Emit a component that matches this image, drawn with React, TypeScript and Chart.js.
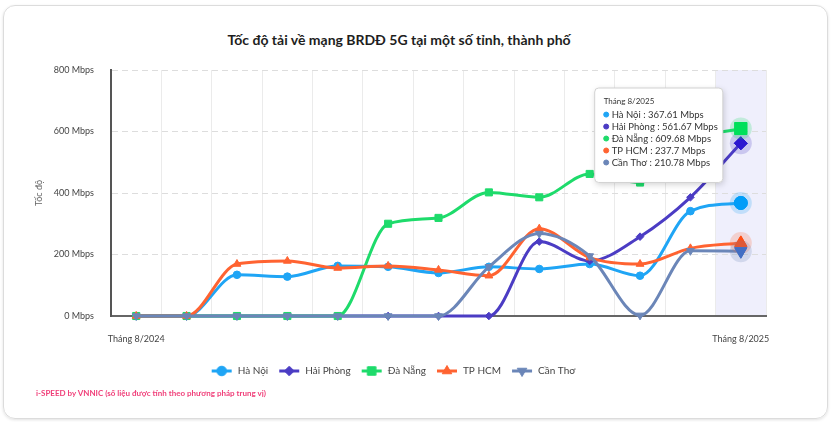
import React, { useEffect, useRef } from 'react';
import { Chart, registerables, Tooltip } from 'chart.js';
import { drawPoint } from 'chart.js/helpers';

Chart.register(...registerables);

const FONT = 'Lato, "Noto Sans", sans-serif';

const chartTitle = 'Tốc độ tải về mạng BRDĐ 5G tại một số tỉnh, thành phố';
const yAxisTitle = 'Tốc độ';
const footnote = 'i-SPEED by VNNIC (số liệu được tính theo phương pháp trung vị)';

const categories = [
  'Tháng 8/2024', 'Tháng 9/2024', 'Tháng 10/2024', 'Tháng 11/2024', 'Tháng 12/2024',
  'Tháng 1/2025', 'Tháng 2/2025', 'Tháng 3/2025', 'Tháng 4/2025', 'Tháng 5/2025',
  'Tháng 6/2025', 'Tháng 7/2025', 'Tháng 8/2025',
];

const seriesNames = ['Hà Nội', 'Hải Phòng', 'Đà Nẵng', 'TP HCM', 'Cần Thơ'];

const haNoi = [0, 0, 134, 128, 163, 160, 140, 160, 153, 169, 131, 341, 367.61];
const haiPhong = [0, 0, 0, 0, 0, 0, 0, 0, 242, 179, 258, 386, 561.67];
const daNang = [0, 0, 0, 0, 0, 300, 319, 402, 386, 462, 434, 570, 609.68];
const tpHcm = [0, 0, 169, 179, 156, 163, 150, 131, 284, 190, 169, 220, 237.7];
const canTho = [0, 0, 0, 0, 0, 0, 0, 160, 268, 195, 2, 212, 210.78];

const seriesValues = [haNoi, haiPhong, daNang, tpHcm, canTho];

const yMin = 0;
const yMax = 800;
const yStep = 200;
const yUnit = 'Mbps';

const colors = ['#1fa5f5', '#4b3cc4', '#1edb6b', '#ff6331', '#6b86b8'];
const markers = ['circle', 'rectRot', 'rect', 'triangle', 'triangle'];
const rotations = [0, 0, 0, 0, 180];
const radii = [3.8, 3.8, 5, 4.5, 4.5];
const hoverRadii = [6.5, 6.5, 8.5, 7, 7];
const drawOrder = [4, 3, 2, 1, 0];

function hexA(hex: string, a: number) {
  const n = parseInt(hex.slice(1), 16);
  return `rgba(${(n >> 16) & 255},${(n >> 8) & 255},${n & 255},${a})`;
}

(Tooltip.positioners as any).leftOfPoint = function (elements: any[]) {
  if (!elements.length) return false;
  const chart = (this as any).chart;
  const x = elements[0].element.x;
  return { x: x - 18 - 4, y: chart.chartArea.top + 18 };
};

const hoverPlugin = {
  id: 'hoverDecor',
  beforeDraw(chart: any) {
    const active = chart.getActiveElements();
    if (!active.length) return;
    const xs = chart.scales.x;
    const idx = active[0].index;
    const c = xs.getPixelForValue(idx);
    const half = (xs.getPixelForValue(1) - xs.getPixelForValue(0)) / 2;
    const { top, bottom } = chart.chartArea;
    const ctx = chart.ctx;
    ctx.save();
    ctx.fillStyle = '#efeffc';
    ctx.fillRect(c - half, top, half * 2, bottom - top);
    ctx.restore();
  },
  afterDatasetsDraw(chart: any) {
    const active = chart.getActiveElements();
    const ctx = chart.ctx;
    active.forEach((a: any) => {
      const el = chart.getDatasetMeta(a.datasetIndex).data[a.index];
      ctx.save();
      ctx.fillStyle = hexA(colors[a.datasetIndex], 0.22);
      ctx.beginPath();
      ctx.arc(el.x, el.y, 11, 0, Math.PI * 2);
      ctx.fill();
      ctx.restore();
      el.draw(ctx, chart.chartArea);
    });
  },
  beforeTooltipDraw(chart: any) {
    const t = chart.tooltip;
    if (!t || !t.opacity) return;
    const ctx = chart.ctx;
    ctx.save();
    ctx.shadowColor = 'rgba(0,0,0,0.18)';
    ctx.shadowBlur = 6;
    ctx.shadowOffsetX = 1;
    ctx.shadowOffsetY = 2;
    ctx.fillStyle = '#ffffff';
    ctx.beginPath();
    (ctx as any).roundRect(t.x, t.y, t.width, t.height, 4);
    ctx.fill();
    ctx.restore();
  },
};

function makeIcon(i: number) {
  const c = document.createElement('canvas');
  c.width = 22;
  c.height = 12;
  const g = c.getContext('2d')!;
  g.strokeStyle = colors[i];
  g.fillStyle = colors[i];
  g.lineWidth = 3;
  g.beginPath();
  g.moveTo(1, 6);
  g.lineTo(21, 6);
  g.stroke();
  g.lineWidth = 1;
  drawPoint(g, { pointStyle: markers[i] as any, rotation: rotations[i], radius: radii[i] + 1, borderWidth: 1 }, 11, 6);
  return c;
}

export default function App() {
  const ref = useRef<HTMLCanvasElement>(null);

  useEffect(() => {
    if (!ref.current) return;
    const icons = seriesNames.map((_, i) => makeIcon(i));
    const lastIdx = categories.length - 1;

    const chart = new Chart(ref.current, {
      type: 'line',
      data: {
        labels: categories,
        datasets: seriesNames.map((name, i) => ({
          label: name,
          data: seriesValues[i],
          borderColor: colors[i],
          backgroundColor: colors[i],
          borderWidth: 3,
          cubicInterpolationMode: 'monotone' as const,
          pointStyle: markers[i] as any,
          rotation: rotations[i],
          pointRadius: radii[i],
          pointHoverRadius: hoverRadii[i],
          pointBorderWidth: 1,
          pointHoverBorderWidth: 1,
          pointBackgroundColor: colors[i],
          pointBorderColor: colors[i],
          order: drawOrder[i],
          fill: false,
          clip: false as any,
        })),
      },
      options: {
        responsive: false,
        animation: false,
        events: [],
        layout: { padding: { top: 70, left: 20, right: 68, bottom: 36 } },
        font: { family: FONT },
        interaction: { mode: 'index', intersect: false },
        scales: {
          x: {
            offset: true,
            grid: { color: '#ebebeb', lineWidth: 1, offset: true, drawTicks: false },
            border: { display: true, color: '#666666', width: 2 },
            ticks: {
              autoSkip: false,
              maxRotation: 0,
              padding: 18,
              color: '#444',
              font: { family: FONT, size: 9 },
              callback: (_v: any, i: number) => (i === 0 || i === lastIdx ? categories[i] : ''),
            },
            afterFit: (s: any) => { s.height = 40; },
          },
          y: {
            min: yMin,
            max: yMax,
            ticks: {
              stepSize: yStep,
              padding: 17,
              color: '#444',
              font: { family: FONT, size: 9 },
              callback: (v: any) => `${v} ${yUnit}`,
            },
            grid: { color: '#dddddd', lineWidth: 1, drawTicks: false },
            border: { display: true, color: '#555555', width: 2, dash: [6, 4] },
            title: {
              display: true,
              text: yAxisTitle,
              color: '#666',
              font: { family: FONT, size: 9 },
              padding: { top: 14, bottom: 0 },
            },
            afterFit: (s: any) => { s.width = 91; },
          },
        },
        plugins: {
          title: { display: false },
          legend: {
            position: 'bottom',
            labels: {
              usePointStyle: true,
              pointStyleWidth: 22,
              padding: 10,
              color: '#444',
              font: { family: FONT, size: 10 },
              generateLabels: (c: any) => {
                const items = (Chart.defaults.plugins.legend.labels as any).generateLabels(c);
                return items
                  .sort((a: any, b: any) => a.datasetIndex - b.datasetIndex)
                  .map((it: any) => ({ ...it, pointStyle: icons[it.datasetIndex], rotation: 0 }));
              },
            },
          },
          tooltip: {
            enabled: true,
            animation: false,
            position: 'leftOfPoint' as any,
            xAlign: 'right',
            yAlign: 'top',
            caretSize: 0,
            caretPadding: 0,
            cornerRadius: 4,
            backgroundColor: '#ffffff',
            borderColor: '#d2d2d2',
            borderWidth: 1,
            titleColor: '#333',
            titleFont: { family: FONT, size: 8, weight: 'normal' },
            titleMarginBottom: 3,
            bodyColor: '#333',
            bodyFont: { family: FONT, size: 9.5, lineHeight: 1.05 },
            bodySpacing: 2,
            padding: { left: 9, right: 5, top: 9, bottom: 15 },
            usePointStyle: true,
            boxWidth: 5,
            boxHeight: 5,
            boxPadding: 1,
            callbacks: {
              label: (ctx: any) => `${ctx.dataset.label} : ${ctx.parsed.y} ${yUnit}`,
              labelPointStyle: () => ({ pointStyle: 'circle', rotation: 0 }),
              labelColor: (ctx: any) => ({
                borderColor: colors[ctx.datasetIndex],
                backgroundColor: colors[ctx.datasetIndex],
              }),
            },
          },
        },
      },
      plugins: [hoverPlugin],
    } as any);

    const active = seriesNames.map((_, i) => ({ datasetIndex: i, index: lastIdx }));
    chart.setActiveElements(active);
    chart.tooltip!.setActiveElements(active, { x: 0, y: 0 });
    chart.render();

    return () => chart.destroy();
  }, []);

  return (
    <div style={{ position: 'absolute', left: 0, top: 0, width: 834, height: 422, background: '#fff' }}>
      <div
        style={{
          position: 'absolute',
          left: 3,
          top: 5,
          width: 825,
          height: 414,
          boxSizing: 'border-box',
          border: '1px solid #dcdcdc',
          borderRadius: 12,
          boxShadow: '0 1px 3px rgba(0,0,0,0.12)',
        }}
      />
      <div
        style={{
          position: 'absolute',
          left: 0,
          top: 31,
          width: 798,
          textAlign: 'center',
          fontFamily: FONT,
          fontSize: 14,
          lineHeight: '18px',
          fontWeight: 700,
          color: '#1e1e1e',
          whiteSpace: 'nowrap',
        }}
      >
        {chartTitle}
      </div>
      <canvas ref={ref} width={834} height={422} style={{ position: 'absolute', left: 0, top: 0 }} />
      <div
        style={{
          position: 'absolute',
          left: 36,
          top: 388,
          fontFamily: FONT,
          fontSize: 8,
          fontWeight: 700,
          color: '#f0407a',
          whiteSpace: 'nowrap',
        }}
      >
        {footnote}
      </div>
    </div>
  );
}
